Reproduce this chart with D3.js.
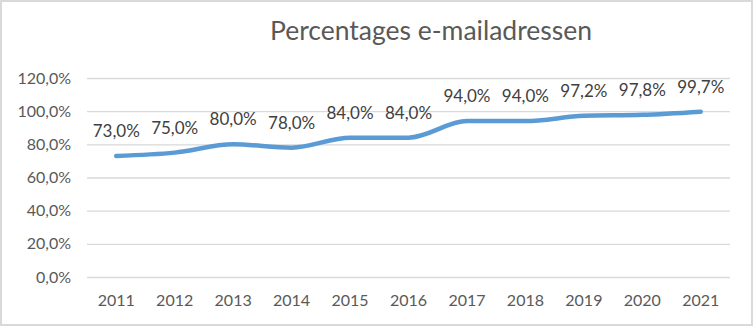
<!DOCTYPE html>
<html><head><meta charset="utf-8">
<script src="https://cdn.jsdelivr.net/npm/d3@7"></script>
<style>body{margin:0;background:#fff}svg{display:block}</style>
</head><body>
<script>
const years = ["2011","2012","2013","2014","2015","2016","2017","2018","2019","2020","2021"];
const values = [73.0,75.0,80.0,78.0,84.0,84.0,94.0,94.0,97.2,97.8,99.7];
const yTicks = [0,20,40,60,80,100,120];
const title = "Percentages e-mailadressen";

const W = 753, H = 326;
const font = "Lato, 'Open Sans', sans-serif";
const svg = d3.select("body").append("svg").attr("width", W).attr("height", H);
svg.append("rect").attr("x",1).attr("y",1).attr("width",W-2).attr("height",H-2)
  .attr("fill","#fff").attr("stroke","#d9d9d9").attr("stroke-width",2);

const x = d3.scaleBand().domain(years).range([87, 730]);
const y = d3.scaleLinear().domain([0,120]).range([277, 78]);

svg.append("text").attr("x", 431).attr("y", 40).attr("text-anchor","middle")
  .attr("font-family", font).attr("font-size", 26.5).attr("fill","#595959").text(title);

const fmt = v => d3.format(".1f")(v).replace(".", ",") + "%";

const yAxis = svg.append("g").attr("transform","translate(87,0)")
  .call(d3.axisLeft(y).tickValues(yTicks).tickSize(-643).tickFormat(fmt).tickPadding(16));
yAxis.select(".domain").remove();
yAxis.selectAll("line").attr("stroke","#d9d9d9").attr("stroke-width",1.3);
yAxis.selectAll("text").attr("font-family", font).attr("font-size", 16).attr("fill","#595959");

const xAxis = svg.append("g").attr("transform","translate(0,277)")
  .call(d3.axisBottom(x).tickSize(0).tickPadding(18));
xAxis.select(".domain").remove();
xAxis.selectAll("text").attr("font-family", font).attr("font-size", 16).attr("fill","#595959");

const cx = d => x(d) + x.bandwidth()/2;
const line = d3.line().x((d,i)=>cx(years[i])).y(d=>y(d)).curve(d3.curveMonotoneX);
svg.append("path").datum(values).attr("d", line).attr("fill","none")
  .attr("stroke","#5b9bd5").attr("stroke-width",4.5).attr("stroke-linecap","round");

svg.append("g").selectAll("text").data(values).join("text")
  .attr("x",(d,i)=>cx(years[i])).attr("y", d=>y(d)-19)
  .attr("text-anchor","middle").attr("font-family", font).attr("font-size", 17)
  .attr("fill","#404040").text(fmt);
</script>
</body></html>
